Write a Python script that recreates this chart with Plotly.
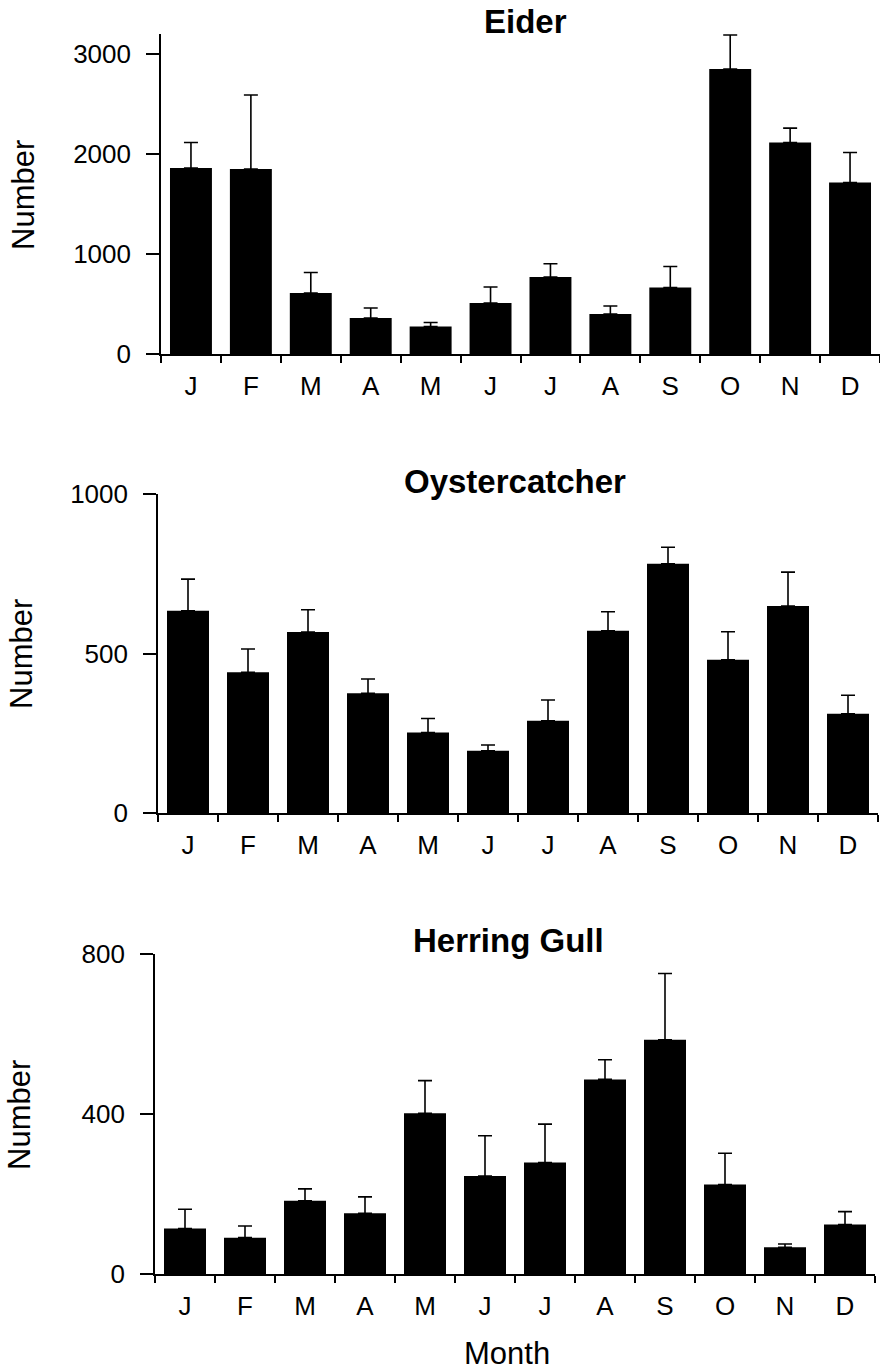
import plotly.graph_objects as go

months = ["J", "F", "M", "A", "M", "J", "J", "A", "S", "O", "N", "D"]
month_keys = ["Jan", "Feb", "Mar", "Apr", "May", "Jun", "Jul", "Aug", "Sep", "Oct", "Nov", "Dec"]

eider_mean = [1860, 1850, 610, 360, 275, 510, 770, 400, 665, 2850, 2115, 1715]
eider_err = [255, 740, 205, 100, 40, 160, 133, 80, 210, 340, 144, 300]

oyster_mean = [635, 442, 568, 376, 253, 196, 290, 572, 782, 481, 650, 312]
oyster_err = [99, 73, 70, 45, 44, 18, 65, 60, 52, 88, 106, 58]

gull_mean = [114, 91, 183, 152, 402, 245, 279, 487, 586, 224, 67, 124]
gull_err = [48, 29, 30, 41, 82, 101, 96, 49, 166, 78, 8, 32]

titles = ["Eider", "Oystercatcher", "Herring Gull"]
y_ranges = [[0, 3200], [0, 1000], [0, 800]]
y_ticks = [[0, 1000, 2000, 3000], [0, 500, 1000], [0, 400, 800]]

W, H = 880, 1372
FONT = "Liberation Sans, Arial, sans-serif"

# pixel layout of the three panels
x_dom_px = [(161, 880), (158, 878), (155, 875)]
y_dom_px = [(34, 354), (494.3, 813.3), (954.3, 1274)]
title_pos = [(525, 22), (515, 481), (508, 941)]
ylab_pos = [(23, 195), (21, 654), (19, 1115)]

series = [(eider_mean, eider_err), (oyster_mean, oyster_err), (gull_mean, gull_err)]

fig = go.Figure()
for i, (mean, err) in enumerate(series):
    sfx = "" if i == 0 else str(i + 1)
    fig.add_trace(go.Bar(
        x=month_keys, y=mean,
        xaxis="x" + sfx, yaxis="y" + sfx,
        marker=dict(color="black", line=dict(width=0)),
        width=0.7,
        error_y=dict(type="data", array=err, arrayminus=[0] * len(err), symmetric=False,
                     color="black", thickness=1.6, width=7),
        showlegend=False,
    ))
    xd = x_dom_px[i]
    yd = y_dom_px[i]
    fig.layout["xaxis" + sfx] = dict(
        domain=[xd[0] / W, xd[1] / W],
        anchor="y" + sfx,
        type="category",
        tickmode="array", tickvals=month_keys, ticktext=months,
        range=[-0.5, 11.5],
        tickson="boundaries",
        ticks="outside", ticklen=7, tickwidth=1.5, tickcolor="black",
        showline=True, linecolor="black", linewidth=1.6,
        showgrid=False, zeroline=False, automargin=False,
        tickfont=dict(family=FONT, size=26, color="black"),
        ticklabelstandoff=8,
    )
    fig.layout["yaxis" + sfx] = dict(
        domain=[1 - yd[1] / H, 1 - yd[0] / H],
        anchor="x" + sfx,
        range=y_ranges[i],
        tickmode="array", tickvals=y_ticks[i],
        ticks="outside", ticklen=13, tickwidth=1.5, tickcolor="black",
        showline=True, linecolor="black", linewidth=1.6,
        showgrid=False, zeroline=False, automargin=False,
        tickfont=dict(family=FONT, size=26, color="black"),
        ticklabelstandoff=10,
    )
    tx, ty = title_pos[i]
    fig.add_annotation(text="<b>" + titles[i] + "</b>", x=tx / W, y=1 - ty / H,
                       xref="paper", yref="paper", xanchor="center", yanchor="middle",
                       showarrow=False, font=dict(family=FONT, size=33, color="black"))
    lx, ly = ylab_pos[i]
    fig.add_annotation(text="Number", x=lx / W, y=1 - ly / H, textangle=-90,
                       xref="paper", yref="paper", xanchor="center", yanchor="middle",
                       showarrow=False, font=dict(family=FONT, size=31, color="black"))

fig.add_annotation(text="Month", x=507 / W, y=1 - 1353 / H,
                   xref="paper", yref="paper", xanchor="center", yanchor="middle",
                   showarrow=False, font=dict(family=FONT, size=31, color="black"))

fig.update_layout(
    width=W, height=H,
    margin=dict(l=0, r=0, t=0, b=0, pad=0, autoexpand=False),
    paper_bgcolor="white", plot_bgcolor="white",
    bargap=0.3,
)

fig.write_html("out.html", config={"displayModeBar": False},
               post_script="document.body.style.margin='0';document.body.style.overflow='hidden';")
